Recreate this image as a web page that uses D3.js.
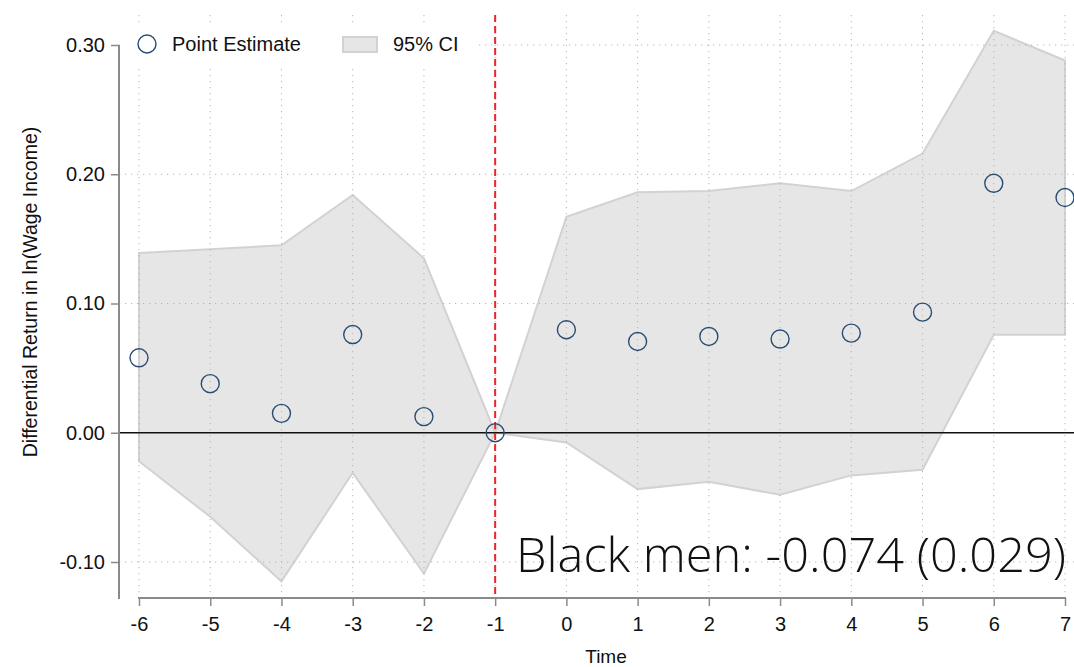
<!DOCTYPE html>
<html>
<head>
<meta charset="utf-8">
<script src="https://cdn.jsdelivr.net/npm/d3@7"></script>
<style>
  body { margin: 0; background: #fff; }
  svg { display: block; font-family: "Liberation Sans", Arial, sans-serif; }
</style>
</head>
<body>
<svg id="chart" width="1074" height="667"></svg>
<script>
// event time
var times = [-6, -5, -4, -3, -2, -1, 0, 1, 2, 3, 4, 5, 6, 7];
// point estimates
var estimates = [0.058, 0.038, 0.015, 0.076, 0.0125, 0, 0.0797, 0.0706, 0.0745, 0.0725, 0.0771, 0.0933, 0.193, 0.182];
// 95% CI bounds
var ciUpper = [0.139, 0.142, 0.145, 0.184, 0.135, 0, 0.167, 0.186, 0.187, 0.193, 0.187, 0.216, 0.311, 0.288];
var ciLower = [-0.022, -0.065, -0.115, -0.031, -0.109, 0, -0.0075, -0.0436, -0.038, -0.048, -0.033, -0.0286, 0.0758, 0.0758];
var yTicks = [-0.10, 0.00, 0.10, 0.20, 0.30];
var refTime = -1;
var note = "Black men: -0.074 (0.029)";

var svg = d3.select('#chart');
var _top = 15, _bottom = 598, _left = 119, _right = 1074;
var _font = '"Liberation Sans", Arial, sans-serif';

var x = d3.scaleLinear().domain([-6, 7]).range([139, 1065]);
var y = d3.scaleLinear().domain([-0.1, 0.3]).range([562, 45]);

var data = times.map(function(t, i){
    return {t: t, est: estimates[i], lo: ciLower[i], hi: ciUpper[i]};
});

// plain hyphen minus like the original
function fmt(f){
    return function(d){ return f(d).replace('\u2212', '-'); };
}

// CI band
var area = d3.area()
    .x(function(d){ return x(d.t); })
    .y0(function(d){ return y(d.lo); })
    .y1(function(d){ return y(d.hi); });

svg.append('path')
    .datum(data)
    .attr('d', area)
    .attr('fill', '#e6e6e6')
    .attr('stroke', '#d2d2d2')
    .attr('stroke-width', 2);

// dotted grid
svg.append('g').selectAll('line').data(times).enter().append('line')
    .attr('x1', function(d){ return x(d); })
    .attr('x2', function(d){ return x(d); })
    .attr('y1', _top).attr('y2', _bottom)
    .attr('stroke', '#b4b4b4')
    .attr('stroke-width', 1)
    .attr('stroke-dasharray', '1.2,4.8');

svg.append('g').selectAll('line').data(yTicks.filter(function(d){ return d !== 0; })).enter().append('line')
    .attr('x1', _left).attr('x2', _right)
    .attr('y1', function(d){ return y(d); })
    .attr('y2', function(d){ return y(d); })
    .attr('stroke', '#b4b4b4')
    .attr('stroke-width', 1)
    .attr('stroke-dasharray', '1.2,4.8');

// zero line
svg.append('line')
    .attr('x1', _left).attr('x2', _right)
    .attr('y1', y(0)).attr('y2', y(0))
    .attr('stroke', '#111')
    .attr('stroke-width', 1.5);

// reference line
svg.append('line')
    .attr('x1', x(refTime)).attr('x2', x(refTime))
    .attr('y1', _top).attr('y2', _bottom)
    .attr('stroke', '#e8262b')
    .attr('stroke-width', 2)
    .attr('stroke-dasharray', '7,4');

// y axis
var yAxis = d3.axisLeft(y).tickValues(yTicks).tickFormat(fmt(d3.format('.2f'))).tickSize(8).tickPadding(6);
var gy = svg.append('g').attr('transform', 'translate(' + _left + ',0)').call(yAxis);
gy.select('.domain').remove();
gy.append('line')
    .attr('y1', y(0.3)).attr('y2', _bottom + 1)
    .attr('stroke', '#8a8a8a').attr('stroke-width', 2);
gy.selectAll('.tick line').attr('stroke', '#8a8a8a').attr('stroke-width', 1.5);
gy.selectAll('.tick text')
    .attr('fill', '#111')
    .style('font-size', '20px')
    .style('font-family', _font);

// x axis
var xAxis = d3.axisBottom(x).tickValues(times).tickFormat(fmt(d3.format('d'))).tickSize(8).tickPadding(11);
var gx = svg.append('g').attr('transform', 'translate(0,' + _bottom + ')').call(xAxis);
gx.select('.domain').remove();
gx.append('line')
    .attr('x1', x(-6) - 1).attr('x2', x(7) + 1)
    .attr('stroke', '#8a8a8a').attr('stroke-width', 2);
gx.selectAll('.tick line').attr('stroke', '#8a8a8a').attr('stroke-width', 1.5);
gx.selectAll('.tick text')
    .attr('fill', '#111')
    .style('font-size', '20px')
    .style('font-family', _font);

// axis titles
svg.append('text')
    .attr('x', 606).attr('y', 663)
    .attr('text-anchor', 'middle')
    .style('font-size', '19px')
    .attr('fill', '#111')
    .text('Time');

svg.append('text')
    .attr('transform', 'translate(37,292) rotate(-90)')
    .attr('text-anchor', 'middle')
    .style('font-size', '19.5px')
    .attr('fill', '#111')
    .text('Differential Return in ln(Wage Income)');

// point estimates
svg.append('g').selectAll('circle').data(data).enter().append('circle')
    .attr('cx', function(d){ return x(d.t); })
    .attr('cy', function(d){ return y(d.est); })
    .attr('r', 9)
    .attr('fill', 'none')
    .attr('stroke', '#2a4c72')
    .attr('stroke-width', 1.4);

// legend
var lg = svg.append('g');
lg.append('rect')
    .attr('x', 123).attr('y', 23).attr('width', 356).attr('height', 43)
    .attr('fill', '#fff');
lg.append('circle')
    .attr('cx', 147).attr('cy', 44).attr('r', 9)
    .attr('fill', 'none').attr('stroke', '#2a4c72').attr('stroke-width', 1.4);
lg.append('text')
    .attr('x', 172).attr('y', 51)
    .style('font-size', '20px').attr('fill', '#111')
    .text('Point Estimate');
lg.append('rect')
    .attr('x', 343).attr('y', 37).attr('width', 34).attr('height', 15)
    .attr('fill', '#e6e6e6').attr('stroke', '#d2d2d2').attr('stroke-width', 2);
lg.append('text')
    .attr('x', 393).attr('y', 51)
    .style('font-size', '20px').attr('fill', '#111')
    .text('95% CI');

// annotation
var t = svg.append('text')
    .attr('x', 1066).attr('y', 572)
    .attr('text-anchor', 'end')
    .style('font-family', '"Open Sans", Lato, sans-serif')
    .style('font-weight', 300)
    .style('font-size', '52px')
    .attr('fill', '#111')
    .text(note);
var w = t.node().getComputedTextLength();
if (w > 0) {
    t.style('font-size', (52 * 550 / w) + 'px');
}
</script>
</body>
</html>
